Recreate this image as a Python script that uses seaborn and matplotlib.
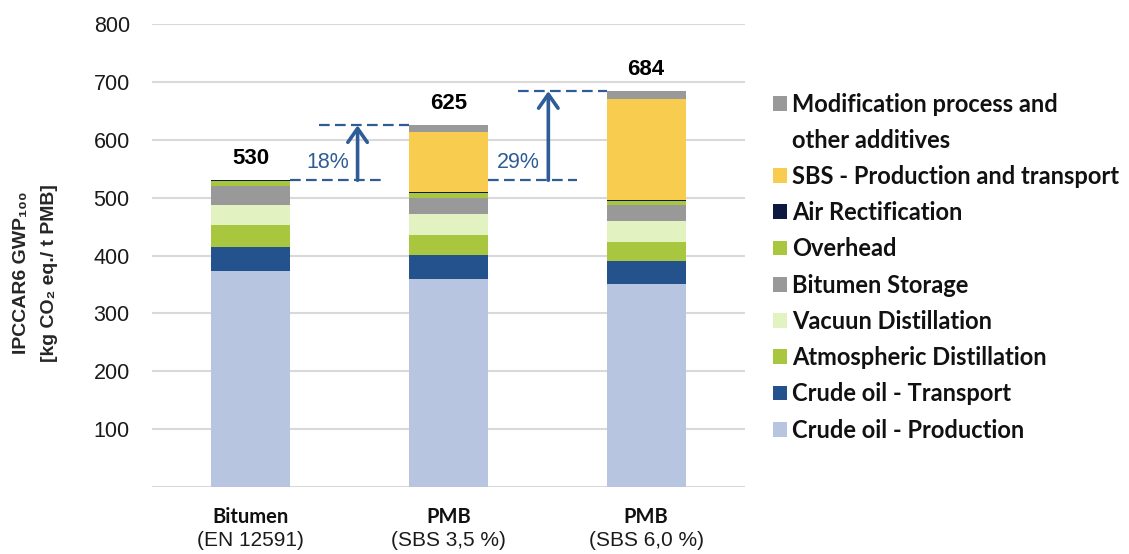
import numpy as np
import pandas as pd
import matplotlib
matplotlib.use("Agg")
import matplotlib.pyplot as plt
import seaborn as sns
from matplotlib.patches import Patch

# ---------------- data ----------------
categories = ["Bitumen (EN 12591)", "PMB (SBS 3,5 %)", "PMB (SBS 6,0 %)"]
cat_line1 = ["Bitumen", "PMB", "PMB"]
cat_line2 = ["(EN 12591)", "(SBS 3,5 %)", "(SBS 6,0 %)"]

components = [
    "Crude oil - Production",
    "Crude oil - Transport",
    "Atmospheric Distillation",
    "Vacuun Distillation",
    "Bitumen Storage",
    "Overhead",
    "Air Rectification",
    "SBS - Production and transport",
    "Modification process and",
]
legend_extra_line = "other additives"
crude_production = [373, 359, 351]
crude_transport = [41, 42, 40]
atmospheric = [38, 35, 33]
vacuum = [35, 35, 35]
storage = [33, 29, 29]
overhead = [9, 8, 7]
air_rect = [1, 1, 1]
sbs = [0, 104, 175]
modification = [0, 12, 13]
totals = [530, 625, 684]
increase_labels = ["18%", "29%"]
y_ticks = [100, 200, 300, 400, 500, 600, 700, 800]

colors = ["#B7C5E0", "#24528C", "#A8C73E", "#E2F2C0", "#999999",
          "#A8C73E", "#0C1941", "#F7CC4F", "#999999"]
blue = "#2E5C97"

series = [crude_production, crude_transport, atmospheric, vacuum, storage,
          overhead, air_rect, sbs, modification]
df = pd.DataFrame({c: v for c, v in zip(components, series)}, index=categories)
cum = df.cumsum(axis=1)

# ---------------- figure ----------------
sns.set_theme(style="white")
plt.rcParams["font.family"] = ["Liberation Sans", "DejaVu Sans"]

fig = plt.figure(figsize=(11.29, 5.54), dpi=100)
ax = fig.add_axes([152 / 1129, 1 - 487 / 554, (745 - 152) / 1129, (487 - 24) / 554])

for i in range(len(components) - 1, -1, -1):
    sns.barplot(x=categories, y=cum[components[i]].values, color=colors[i],
                saturation=1, width=0.4, linewidth=0, ax=ax, zorder=3)

ax.set_xlim(-0.5, 2.5)
ax.set_ylim(0, 800)
ax.set_yticks(y_ticks)
ax.set_yticklabels([str(t) for t in y_ticks], fontsize=15.5, color="#1a1a1a")
for y in [0] + y_ticks:
    ax.axhline(y, color="#D9D9D9", lw=1.5, zorder=1)
for s in ax.spines.values():
    s.set_visible(False)
ax.tick_params(axis="y", length=0, pad=16)
ax.tick_params(axis="x", length=0)
ax.set_xticks([0, 1, 2])
ax.set_xticklabels(["", "", ""])
ax.set_xlabel("")
ax.set_ylabel("")

# y label
fig.text(21.5 / 1129, 1 - 273 / 554, "IPCCAR6 GWP\u2081\u2080\u2080", rotation=90,
         ha="center", va="center", fontsize=14, fontweight="bold",
         family=["Liberation Sans", "DejaVu Sans"])
fig.text(50 / 1129, 1 - 273 / 554, "[kg CO\u2082 eq./ t PMB]", rotation=90,
         ha="center", va="center", fontsize=14, fontweight="bold",
         family=["Liberation Sans", "DejaVu Sans"])

# x labels (two lines, mixed fonts)
xt = ax.get_xaxis_transform()
for i in range(3):
    ax.text(i, -(517 - 487) / 463, cat_line1[i], transform=xt, ha="center", va="center",
            fontsize=14.5, fontweight="bold", family="Lato", color="#111111")
    ax.text(i, -(541 - 487) / 463, cat_line2[i], transform=xt, ha="center", va="center",
            fontsize=15, color="#1a1a1a")

# totals
for i, t in enumerate(totals):
    ax.text(i, t + 38, str(t), ha="center", va="center", fontsize=16,
            fontweight="bold", color="black", zorder=5)

# increase annotations
dash = (0, (4.8, 2.4))
def increase(x_from_edge, x_low_end, x_high_start, x_to_edge, x_arrow, x_text, y0, y1, label):
    ax.plot([x_from_edge, x_low_end], [y0, y0], color=blue, lw=1.6, ls=dash, zorder=4)
    ax.plot([x_high_start, x_to_edge], [y1, y1], color=blue, lw=1.6, ls=dash, zorder=4)
    ax.annotate("", xy=(x_arrow, y1), xytext=(x_arrow, y0),
                arrowprops=dict(arrowstyle="->,head_length=0.5,head_width=0.35",
                                lw=2.6, color=blue, shrinkA=0, shrinkB=0,
                                mutation_scale=20), zorder=4)
    ax.text(x_text, 560, label, color=blue, fontsize=15.5, ha="center", va="center")

increase(0.2, 0.657, 0.343, 0.8, 0.54, 0.39, totals[0], totals[1], increase_labels[0])
increase(1.2, 1.65, 1.354, 1.8, 1.505, 1.354, totals[0], totals[2], increase_labels[1])

# legend
handles = [Patch(facecolor=colors[-1], edgecolor="none", label=components[-1]),
           Patch(facecolor="none", edgecolor="none", label=legend_extra_line)]
handles += [Patch(facecolor=colors[i], edgecolor="none", label=components[i])
            for i in range(len(components) - 2, -1, -1)]
leg = fig.legend(handles=handles, loc="upper left",
                 bbox_to_anchor=(773 / 1129, 1 - 92.5 / 554),
                 frameon=False, borderpad=0, borderaxespad=0,
                 handlelength=0.59, handleheight=0.59, handletextpad=0.21,
                 labelspacing=0.56,
                 prop=dict(family="Lato", weight="bold", size=17))
for txt in leg.get_texts():
    txt.set_color("#111111")

fig.savefig("out.png", dpi=100)
